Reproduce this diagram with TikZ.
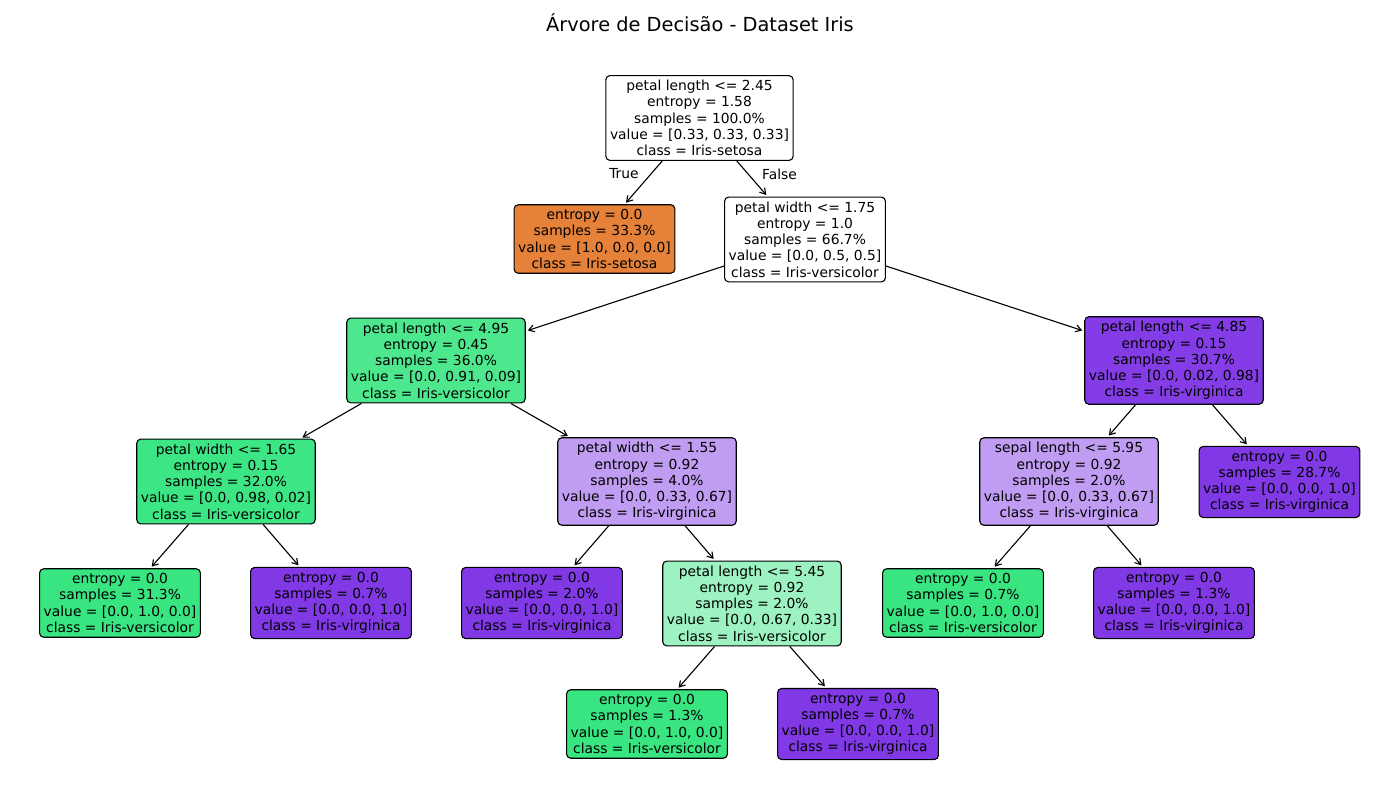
\documentclass[tikz,border=0pt]{standalone}
\usepackage{fontspec}
\setmainfont{DejaVu Sans}
\usetikzlibrary{arrows.meta}
\definecolor{Setosa}{HTML}{E58139}
\definecolor{Versi}{HTML}{39E581}
\definecolor{Virg}{HTML}{8139E5}
\definecolor{VersiHi}{HTML}{4DE88E}
\definecolor{VersiHii}{HTML}{3DE684}
\definecolor{VersiLo}{HTML}{9CF2C0}
\definecolor{VirgHi}{HTML}{843DE6}
\definecolor{VirgLo}{HTML}{C09CF2}
\newcommand{\treefont}{\fontsize{10}{11.7}\selectfont}
\tikzset{
  tnode/.style={draw=black,line width=0.8pt,rounded corners=3pt,align=center,
    font=\treefont,inner xsep=3pt,inner ysep=3.4pt,fill=white},
  tedge/.style={line width=0.8pt,-{Straight Barb[length=4pt,width=5pt]},shorten >=1.5pt}
}

\begin{document}
\begin{tikzpicture}[x=0.0254cm,y=-0.0254cm]
    \useasboundingbox (0,0) rectangle (1400,800);

    % Title
    \node[font=\fontsize{14}{16}\selectfont] (title) at (700,23) {Árvore de Decisão - Dataset Iris};

    % Splits
    \begin{scope}[every node/.style={tnode}]
      \node (R) at (699.5,118) {petal length <= 2.45\\entropy = 1.58\\samples = 100.0\%\\value = [0.33, 0.33, 0.33]\\class = Iris-setosa};
      \node (PW1) at (805,239.5) {petal width <= 1.75\\entropy = 1.0\\samples = 66.7\%\\value = [0.0, 0.5, 0.5]\\class = Iris-versicolor};
      \node[fill=VersiHi] (PL1) at (436,360.5) {petal length <= 4.95\\entropy = 0.45\\samples = 36.0\%\\value = [0.0, 0.91, 0.09]\\class = Iris-versicolor};
      \node[fill=VirgHi] (PL2) at (1174,360.5) {petal length <= 4.85\\entropy = 0.15\\samples = 30.7\%\\value = [0.0, 0.02, 0.98]\\class = Iris-virginica};
      \node[fill=VersiHii] (PW2) at (226,481.5) {petal width <= 1.65\\entropy = 0.15\\samples = 32.0\%\\value = [0.0, 0.98, 0.02]\\class = Iris-versicolor};
      \node[fill=VirgLo] (PW3) at (647,481.5) {petal width <= 1.55\\entropy = 0.92\\samples = 4.0\%\\value = [0.0, 0.33, 0.67]\\class = Iris-virginica};
      \node[fill=VirgLo] (SL1) at (1069,481.5) {sepal length <= 5.95\\entropy = 0.92\\samples = 2.0\%\\value = [0.0, 0.33, 0.67]\\class = Iris-virginica};
      \node[fill=VersiLo] (PL3) at (752,603.5) {petal length <= 5.45\\entropy = 0.92\\samples = 2.0\%\\value = [0.0, 0.67, 0.33]\\class = Iris-versicolor};
    \end{scope}

    % Leaves
    \begin{scope}[every node/.style={tnode}]
      \node[fill=Setosa] (L1) at (594.5,239) {entropy = 0.0\\samples = 33.3\%\\value = [1.0, 0.0, 0.0]\\class = Iris-setosa};
      \node[fill=Virg] (L2) at (1279.5,482) {entropy = 0.0\\samples = 28.7\%\\value = [0.0, 0.0, 1.0]\\class = Iris-virginica};
      \node[fill=Versi] (L3) at (120,603) {entropy = 0.0\\samples = 31.3\%\\value = [0.0, 1.0, 0.0]\\class = Iris-versicolor};
      \node[fill=Virg] (L4) at (331,603) {entropy = 0.0\\samples = 0.7\%\\value = [0.0, 0.0, 1.0]\\class = Iris-virginica};
      \node[fill=Virg] (L5) at (542,603) {entropy = 0.0\\samples = 2.0\%\\value = [0.0, 0.0, 1.0]\\class = Iris-virginica};
      \node[fill=Versi] (L6) at (963,603) {entropy = 0.0\\samples = 0.7\%\\value = [0.0, 1.0, 0.0]\\class = Iris-versicolor};
      \node[fill=Virg] (L7) at (1174,603) {entropy = 0.0\\samples = 1.3\%\\value = [0.0, 0.0, 1.0]\\class = Iris-virginica};
      \node[fill=Versi] (L8) at (647,724) {entropy = 0.0\\samples = 1.3\%\\value = [0.0, 1.0, 0.0]\\class = Iris-versicolor};
      \node[fill=Virg] (L9) at (858,724) {entropy = 0.0\\samples = 0.7\%\\value = [0.0, 0.0, 1.0]\\class = Iris-virginica};
    \end{scope}

    % Edges
    \draw[tedge] (R) -- (L1);
    \draw[tedge] (R) -- (PW1);
    \draw[tedge] (PW1) -- (PL1);
    \draw[tedge] (PW1) -- (PL2);
    \draw[tedge] (PL1) -- (PW2);
    \draw[tedge] (PL1) -- (PW3);
    \draw[tedge] (PL2) -- (SL1);
    \draw[tedge] (PL2) -- (L2);
    \draw[tedge] (PW2) -- (L3);
    \draw[tedge] (PW2) -- (L4);
    \draw[tedge] (PW3) -- (L5);
    \draw[tedge] (PW3) -- (PL3);
    \draw[tedge] (SL1) -- (L6);
    \draw[tedge] (SL1) -- (L7);
    \draw[tedge] (PL3) -- (L8);
    \draw[tedge] (PL3) -- (L9);

    % Branch labels
    \node[font=\treefont] (T) at (624,174) {True};
    \node[font=\treefont] (F) at (779.5,174) {False};
\end{tikzpicture}
\end{document}
